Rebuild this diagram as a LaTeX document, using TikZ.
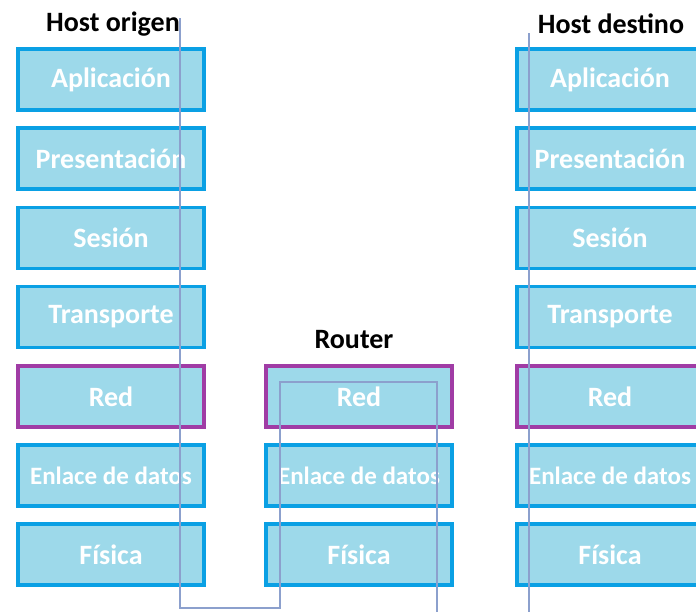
\documentclass[tikz,border=0pt]{standalone}
\usepackage{fontspec}
\setmainfont{Carlito}

\definecolor{layerfill}{RGB}{157,217,234}
\definecolor{layerline}{RGB}{10,160,228}
\definecolor{netline}{RGB}{160,60,165}
\definecolor{pathcolor}{RGB}{140,160,205}

\tikzset{
  layer/.style={fill=layerfill, line width=3.5pt, minimum width=186pt, minimum height=61pt,
    inner sep=0pt, text=white},
  title/.style={font=\fontsize{28}{28}\selectfont\bfseries},
  datapath/.style={draw=pathcolor, line width=1.3pt}
}

\begin{document}
\begin{tikzpicture}[x=1pt,y=-1pt]
  \useasboundingbox (0,0) rectangle (696,611);
  \clip (0,0) rectangle (696,611);

  % Host origen
  \node[title] (srctitle) at (113,24) {Host origen};
  \foreach \name/\edge/\fsz [count=\i] in {Aplicación/layerline/28, Presentación/layerline/28,
      Sesión/layerline/28, Transporte/layerline/28, Red/netline/28, Enlace de datos/layerline/25,
      Física/layerline/28} {
    \node[layer, draw=\edge, font=\fontsize{\fsz}{\fsz}\selectfont\bfseries]
      (src\i) at (111,{79.5+79.2*(\i-1)}) {\name};
  }

  % Router
  \node[title] (rtrtitle) at (354,340) {Router};
  \foreach \name/\edge/\fsz [count=\i from 5] in {Red/netline/28, Enlace de datos/layerline/25,
      Física/layerline/28} {
    \node[layer, draw=\edge, font=\fontsize{\fsz}{\fsz}\selectfont\bfseries]
      (rtr\i) at (359,{79.5+79.2*(\i-1)}) {\name};
  }

  % Host destino
  \node[title] (dsttitle) at (611,24) {Host destino};
  \foreach \name/\edge/\fsz [count=\i] in {Aplicación/layerline/28, Presentación/layerline/28,
      Sesión/layerline/28, Transporte/layerline/28, Red/netline/28, Enlace de datos/layerline/25,
      Física/layerline/28} {
    \node[layer, draw=\edge, font=\fontsize{\fsz}{\fsz}\selectfont\bfseries]
      (dst\i) at (610,{79.5+79.2*(\i-1)}) {\name};
  }

  % Recorrido de los datos
  \coordinate (srctop) at (180,18);
  \coordinate (srcbot) at (180,608);
  \coordinate (rtrinbot) at (280,608);
  \coordinate (rtrintop) at (280,382);
  \coordinate (rtrouttop) at (437,382);
  \coordinate (rtroutbot) at (437,612);
  \coordinate (dsttop) at (529,33);
  \coordinate (dstbot) at (529,612);
  \draw[datapath] (srctop) -- (srcbot) -- (rtrinbot) -- (rtrintop) -- (rtrouttop) -- (rtroutbot);
  \draw[datapath] (dsttop) -- (dstbot);
\end{tikzpicture}
\end{document}
